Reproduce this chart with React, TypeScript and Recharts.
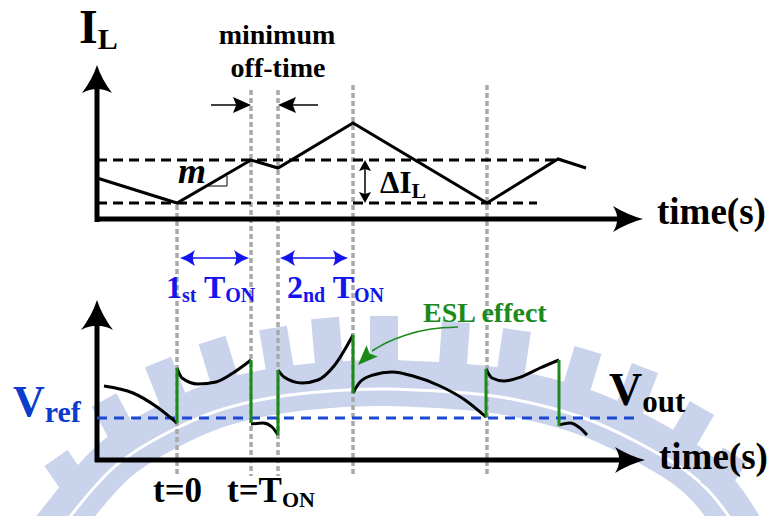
import {
  ComposedChart,
  Line,
  XAxis,
  YAxis,
  ReferenceLine,
  ReferenceDot,
} from "recharts";

// Everything is measured on the picture: x = time position, y = level (0 at the top edge)
const W = 773;
const H = 516;

// top panel: inductor current I_L
const ilWave = [
  { x: 97, y: 178 },
  { x: 177, y: 203 },
  { x: 251, y: 160 },
  { x: 278, y: 168 },
  { x: 353, y: 123 },
  { x: 487, y: 203 },
  { x: 558, y: 159 },
  { x: 586, y: 168 },
];
const ilUpper = [
  { x: 97, y: 160 },
  { x: 562, y: 160 },
];
const ilLower = [
  { x: 97, y: 203 },
  { x: 537, y: 203 },
];

// switching instants (gray dotted guides) and where each guide starts
const guideTimes = [177, 251, 278, 353, 487];
const guideStarts = [205, 90, 90, 85, 85];
const guideEnd = 476;

// bottom panel: output voltage, one array per smooth piece
const vSeg1 = [
  { x: 104, y: 386 },
  { x: 133, y: 393 },
  { x: 157, y: 407 },
  { x: 177, y: 423 },
];
const vSeg2 = [
  { x: 177, y: 368 },
  { x: 182, y: 378 },
  { x: 198, y: 384 },
  { x: 216, y: 382 },
  { x: 233, y: 373 },
  { x: 251, y: 360 },
];
const vSeg3 = [
  { x: 251, y: 424 },
  { x: 263, y: 423 },
  { x: 272, y: 427 },
  { x: 278, y: 435 },
];
const vSeg4 = [
  { x: 278, y: 370 },
  { x: 284, y: 377 },
  { x: 302, y: 383 },
  { x: 318, y: 380 },
  { x: 334, y: 366 },
  { x: 353, y: 335 },
];
const vSeg5 = [
  { x: 353, y: 393 },
  { x: 360, y: 382 },
  { x: 373, y: 375 },
  { x: 392, y: 372 },
  { x: 413, y: 376 },
  { x: 440, y: 386 },
  { x: 465, y: 400 },
  { x: 486, y: 417 },
];
const vSeg6 = [
  { x: 486, y: 369 },
  { x: 492, y: 378 },
  { x: 504, y: 381 },
  { x: 521, y: 377 },
  { x: 540, y: 368 },
  { x: 559, y: 360 },
];
const vSeg7 = [
  { x: 559, y: 425 },
  { x: 570, y: 423 },
  { x: 580, y: 428 },
  { x: 587, y: 435 },
];
const vSegments = [vSeg1, vSeg2, vSeg3, vSeg4, vSeg5, vSeg6, vSeg7];

// ESL jumps (green verticals)
const eslJumps = [
  { x: 177, from: 423, to: 368 },
  { x: 251, from: 360, to: 423 },
  { x: 278, from: 435, to: 370 },
  { x: 353, from: 335, to: 393 },
  { x: 486, from: 417, to: 369 },
  { x: 559, from: 360, to: 426 },
];
const vrefLevel = 418;
const eslPointer = [
  { x: 372, y: 351 },
  { x: 386, y: 343 },
  { x: 406, y: 335 },
  { x: 431, y: 329 },
  { x: 458, y: 327 },
];

// faint watermark logo behind the drawing
const wmBand = [
  { x: 30, y: 560 },
  { x: 69, y: 512 },
  { x: 113, y: 462 },
  { x: 165, y: 428 },
  { x: 217, y: 405 },
  { x: 276, y: 391 },
  { x: 330, y: 385 },
  { x: 384, y: 383 },
  { x: 453, y: 386 },
  { x: 512, y: 393 },
  { x: 581, y: 411 },
  { x: 635, y: 435 },
  { x: 690, y: 468 },
  { x: 725, y: 505 },
  { x: 750, y: 545 },
];
const wmTeeth = [
  [{ x: 78, y: 490 }, { x: 56, y: 458 }],
  [{ x: 124, y: 437 }, { x: 104, y: 400 }],
  [{ x: 175, y: 405 }, { x: 158, y: 362 }],
  [{ x: 225, y: 382 }, { x: 212, y: 340 }],
  [{ x: 280, y: 370 }, { x: 273, y: 328 }],
  [{ x: 329, y: 364 }, { x: 325, y: 318 }],
  [{ x: 384, y: 362 }, { x: 384, y: 316 }],
  [{ x: 453, y: 364 }, { x: 456, y: 322 }],
  [{ x: 511, y: 371 }, { x: 517, y: 330 }],
  [{ x: 576, y: 390 }, { x: 588, y: 350 }],
  [{ x: 628, y: 413 }, { x: 645, y: 368 }],
  [{ x: 680, y: 446 }, { x: 702, y: 408 }],
  [{ x: 712, y: 490 }, { x: 735, y: 455 }],
];

const FONT = "'Liberation Serif', 'Times New Roman', serif";
const BLUE = "#1414ee";
const GREEN = "#1b8a1b";
const GUIDE = "#a9a9a9";

const seg = (
  key: string,
  x1: number,
  y1: number,
  x2: number,
  y2: number,
  stroke: string,
  width: number,
  dash?: string
) => (
  <ReferenceLine
    key={key}
    segment={[
      { x: x1, y: y1 },
      { x: x2, y: y2 },
    ]}
    ifOverflow="visible"
    stroke={stroke}
    strokeWidth={width}
    strokeDasharray={dash}
  />
);

const arrow = (
  key: string,
  x: number,
  y: number,
  angle: number,
  len: number,
  half: number,
  color: string,
  curved = false
) => (
  <ReferenceDot
    key={key}
    x={x}
    y={y}
    r={1}
    ifOverflow="visible"
    shape={(p: any) => (
      <path
        transform={`translate(${p.cx},${p.cy}) rotate(${angle})`}
        d={
          curved
            ? `M0,0 Q${-len * 0.5},${-half * 0.3} ${-len},${-half} Q${-len * 0.72},0 ${-len},${half} Q${-len * 0.5},${half * 0.3} 0,0Z`
            : `M0,0 L${-len},${-half} L${-len * 0.82},0 L${-len},${half}Z`
        }
        fill={color}
      />
    )}
  />
);

const label = (key: string, x: number, y: number, content: any, extra: any = {}) => (
  <ReferenceDot
    key={key}
    x={x}
    y={y}
    r={1}
    ifOverflow="visible"
    shape={(p: any) => (
      <text
        x={p.cx}
        y={p.cy}
        fontFamily={FONT}
        fontWeight="bold"
        fill="#000"
        {...extra}
      >
        {content}
      </text>
    )}
  />
);

const axes = (
  <>
    <XAxis type="number" dataKey="x" domain={[0, W]} hide allowDataOverflow />
    <YAxis type="number" domain={[0, H]} reversed hide allowDataOverflow />
  </>
);

function Watermark() {
  return (
    <ComposedChart width={W} height={H} margin={{ top: 0, right: 0, bottom: 0, left: 0 }}>
      {axes}
      <Line
        data={wmBand}
        dataKey="y"
        type="natural"
        stroke="#c9d3ec"
        strokeWidth={46}
        dot={false}
        activeDot={false}
        isAnimationActive={false}
      />
      <Line
        data={wmBand.map((d) => ({ x: d.x, y: d.y + 6 }))}
        dataKey="y"
        type="natural"
        stroke="#ffffff"
        strokeWidth={3}
        dot={false}
        activeDot={false}
        isAnimationActive={false}
      />
      {wmTeeth.map((t, i) => (
        <Line
          key={`wt${i}`}
          data={t}
          dataKey="y"
          type="linear"
          stroke="#c9d3ec"
          strokeWidth={28}
          dot={false}
          activeDot={false}
          isAnimationActive={false}
        />
      ))}
    </ComposedChart>
  );
}

export default function App() {
  return (
    <div style={{ position: "fixed", left: 0, top: 0, width: W, height: H, background: "#fff" }}>
      <div style={{ position: "absolute", left: 0, top: 0 }}>
        <Watermark />
      </div>
      <div style={{ position: "absolute", left: 0, top: 0 }}>
        <ComposedChart width={W} height={H} margin={{ top: 0, right: 0, bottom: 0, left: 0 }}>
          {axes}

          {/* gray dotted switching guides */}
          {guideTimes.map((t, i) => seg(`g${i}`, t, guideStarts[i], t, guideEnd, GUIDE, 3.5, "5 3"))}

          {/* top panel axes */}
          {seg("ty", 97, 222, 97, 85, "#000", 5)}
          {seg("tx", 95, 219, 622, 219, "#000", 5)}
          {arrow("tya", 97, 65, -90, 28, 15, "#000", true)}
          {arrow("txa", 643, 219, 0, 30, 13, "#000", true)}

          {/* bottom panel axes */}
          {seg("by", 97, 462, 97, 318, "#000", 5)}
          {seg("bx", 95, 460, 625, 460, "#000", 5)}
          {arrow("bya", 97, 300, -90, 30, 16, "#000", true)}
          {arrow("bxa", 645, 460, 0, 30, 13, "#000", true)}

          {/* I_L bounds and waveform */}
          <Line data={ilUpper} dataKey="y" type="linear" stroke="#000" strokeWidth={3} strokeDasharray="10 6" dot={false} activeDot={false} isAnimationActive={false} />
          <Line data={ilLower} dataKey="y" type="linear" stroke="#000" strokeWidth={3} strokeDasharray="10 6" dot={false} activeDot={false} isAnimationActive={false} />
          <Line data={ilWave} dataKey="y" type="linear" stroke="#000" strokeWidth={3} dot={false} activeDot={false} isAnimationActive={false} />

          {/* slope marker */}
          {seg("m1", 208, 186, 227, 186, "#000", 1)}
          {seg("m2", 227, 186, 227, 176, "#000", 1)}

          {/* minimum off-time arrows */}
          {seg("mo1", 211, 105, 240, 105, "#000", 1.5)}
          {arrow("mo1a", 251, 105, 0, 18, 8, "#000")}
          {seg("mo2", 318, 105, 289, 105, "#000", 1.5)}
          {arrow("mo2a", 278, 105, 180, 18, 8, "#000")}

          {/* delta I_L arrow */}
          {seg("di", 365, 166, 365, 197, "#000", 1.5)}
          {arrow("dia", 365, 160, -90, 11, 6, "#000")}
          {arrow("dib", 365, 203, 90, 11, 6, "#000")}

          {/* T_ON spans */}
          {seg("t1", 188, 258, 241, 258, BLUE, 1.5)}
          {arrow("t1a", 180, 258, 180, 15, 8, BLUE, true)}
          {arrow("t1b", 249, 258, 0, 15, 8, BLUE, true)}
          {seg("t2", 288, 258, 340, 258, BLUE, 1.5)}
          {arrow("t2a", 280, 258, 180, 15, 8, BLUE, true)}
          {arrow("t2b", 348, 258, 0, 15, 8, BLUE, true)}

          {/* V_ref */}
          <ReferenceLine
            segment={[
              { x: 97, y: vrefLevel },
              { x: 638, y: vrefLevel },
            ]}
            ifOverflow="visible"
            stroke="#1c48d4"
            strokeWidth={3}
            strokeDasharray="10 7"
          />

          {/* V_out pieces and ESL jumps */}
          {vSegments.map((s, i) => (
            <Line key={`v${i}`} data={s} dataKey="y" type="monotone" stroke="#000" strokeWidth={3} dot={false} activeDot={false} isAnimationActive={false} />
          ))}
          {eslJumps.map((j, i) => (
            <Line
              key={`e${i}`}
              data={[
                { x: j.x, y: j.from },
                { x: j.x, y: j.to },
              ]}
              dataKey="y"
              type="linear"
              stroke={GREEN}
              strokeWidth={3}
              dot={false}
              activeDot={false}
              isAnimationActive={false}
            />
          ))}

          {/* ESL pointer */}
          <Line data={eslPointer} dataKey="y" type="natural" stroke={GREEN} strokeWidth={1.5} dot={false} activeDot={false} isAnimationActive={false} />
          {arrow("esla", 358, 365, 135, 20, 8, GREEN)}

          {/* texts */}
          {label("il", 79, 43, (
            <>
              I<tspan fontSize={30} dy={6}>L</tspan>
            </>
          ), { fontSize: 48 })}
          {label("min1", 277, 44, "minimum", { fontSize: 28, textAnchor: "middle" })}
          {label("min2", 278, 77, "off-time", { fontSize: 28, textAnchor: "middle" })}
          {label("m", 178, 183, "m", { fontSize: 36, fontStyle: "italic" })}
          {label("dil", 380, 193, (
            <>
              ΔI<tspan fontSize={22} dy={5}>L</tspan>
            </>
          ), { fontSize: 31 })}
          {label("time1", 657, 224, "time(s)", { fontSize: 37 })}
          {label("time2", 659, 469, "time(s)", { fontSize: 37 })}
          {label("ton1", 166, 298, (
            <>
              1<tspan fontSize={20} dy={4}>st</tspan>
              <tspan fontSize={32} dy={-4}> T</tspan>
              <tspan fontSize={20} dy={4}>ON</tspan>
            </>
          ), { fontSize: 32, fill: BLUE })}
          {label("ton2", 287, 298, (
            <>
              2<tspan fontSize={20} dy={4}>nd</tspan>
              <tspan fontSize={32} dy={-4}> T</tspan>
              <tspan fontSize={20} dy={4}>ON</tspan>
            </>
          ), { fontSize: 32, fill: BLUE })}
          {label("esl", 423, 322, "ESL effect", { fontSize: 28, fill: GREEN })}
          {label("vref", 13, 416, (
            <>
              V<tspan fontSize={30} dy={6}>ref</tspan>
            </>
          ), { fontSize: 44, fill: "#0b3ccc" })}
          {label("vout", 609, 405, (
            <>
              V<tspan fontSize={31} dy={7}>out</tspan>
            </>
          ), { fontSize: 46 })}
          {label("t0", 153, 502, "t=0", { fontSize: 35 })}
          {label("tton", 227, 502, (
            <>
              t=T<tspan fontSize={22} dy={5}>ON</tspan>
            </>
          ), { fontSize: 35 })}
        </ComposedChart>
      </div>
    </div>
  );
}
